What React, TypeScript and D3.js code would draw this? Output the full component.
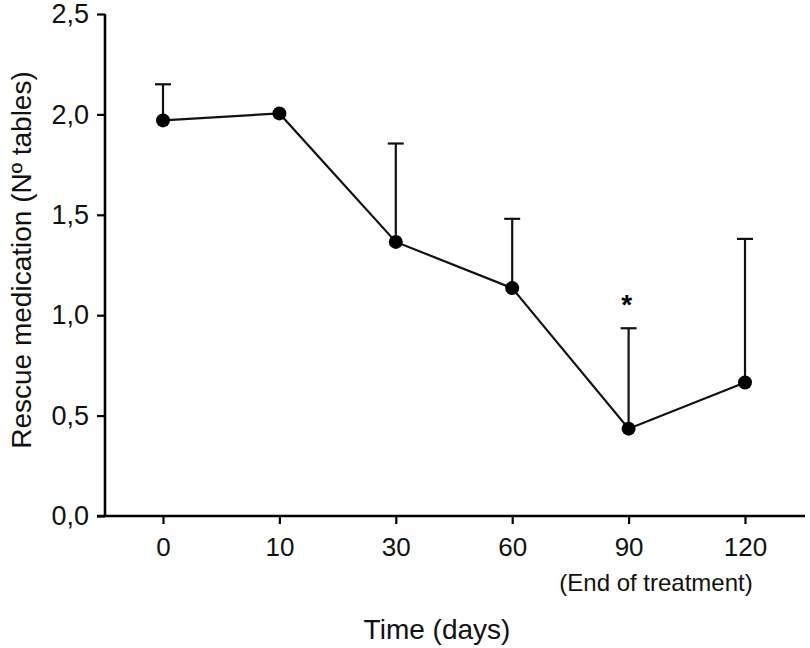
import { useRef, useEffect } from "react";
import * as d3 from "d3";

const days = ["0", "10", "30", "60", "90", "120"];
const means = [1.97, 2.005, 1.365, 1.135, 0.435, 0.665];
const upper = [2.15, null, 1.855, 1.48, 0.935, 1.38];
const yTicks = [0, 0.5, 1.0, 1.5, 2.0, 2.5];
const starred = ["90"];

export default function App() {
  const ref = useRef<SVGSVGElement | null>(null);

  useEffect(() => {
    if (!ref.current) return;
    const svg = d3.select(ref.current);
    svg.selectAll("*").remove();

    const font = "'Liberation Sans', Arial, sans-serif";
    const x = d3.scalePoint<string>().domain(days).range([163, 745]);
    const y = d3.scaleLinear().domain([0, 2.5]).range([516, 14]);

    // axes
    const yAxis = d3.axisLeft(y).tickValues(yTicks).tickSize(8).tickPadding(8)
      .tickFormat(d => d3.format(".1f")(d as number).replace(".", ","));
    const gy = svg.append("g").attr("transform", "translate(105,0)").call(yAxis);
    gy.select(".domain").attr("stroke-width", 2.6).attr("d", `M0,${y(2.5)}V${y(0)}`);
    gy.selectAll(".tick line").attr("stroke-width", 2.2);
    gy.selectAll(".tick text").attr("font-size", 27).attr("font-family", font).attr("fill", "#111");

    const xAxis = d3.axisBottom(x).tickSize(8).tickPadding(14);
    const gx = svg.append("g").attr("transform", `translate(0,${y(0)})`).call(xAxis);
    gx.select(".domain").attr("stroke-width", 2.6).attr("d", "M97,0H805");
    gx.selectAll(".tick line").attr("stroke-width", 2.2);
    gx.selectAll(".tick text").attr("font-size", 26).attr("font-family", font).attr("fill", "#111");

    // error bars (upper only)
    const pts = days.map((d, i) => ({ d, m: means[i], u: upper[i] }));
    const eb = svg.append("g").attr("stroke", "#111").attr("stroke-width", 2.2);
    pts.filter(p => p.u != null).forEach(p => {
      const cx = x(p.d)!;
      eb.append("line").attr("x1", cx).attr("x2", cx).attr("y1", y(p.m)).attr("y2", y(p.u as number));
      eb.append("line").attr("x1", cx - 8).attr("x2", cx + 8).attr("y1", y(p.u as number)).attr("y2", y(p.u as number));
    });

    // line
    const line = d3.line<{ d: string; m: number }>().x(p => x(p.d)!).y(p => y(p.m));
    svg.append("path").datum(pts).attr("d", line as any).attr("fill", "none")
      .attr("stroke", "#111").attr("stroke-width", 2.2);

    svg.append("g").selectAll("circle").data(pts).join("circle")
      .attr("cx", p => x(p.d)!).attr("cy", p => y(p.m)).attr("r", 7).attr("fill", "#000");

    // significance
    pts.filter(p => starred.includes(p.d)).forEach(p => {
      svg.append("text").attr("x", x(p.d)! - 2).attr("y", y(p.u as number) - 14)
        .attr("text-anchor", "middle").attr("font-size", 28).attr("font-weight", "bold")
        .attr("font-family", font).text("*");
    });

    svg.append("text").attr("x", 656).attr("y", 591).attr("text-anchor", "middle")
      .attr("font-size", 24).attr("font-family", font).attr("fill", "#111").text("(End of treatment)");

    svg.append("text").attr("x", 437).attr("y", 639).attr("text-anchor", "middle")
      .attr("font-size", 28).attr("font-family", font).attr("fill", "#111").text("Time (days)");

    svg.append("text").attr("transform", "translate(31,260) rotate(-90)").attr("text-anchor", "middle")
      .attr("font-size", 28).attr("font-family", font).attr("fill", "#111").text("Rescue medication (Nº tables)");
  }, []);

  return (
    <svg ref={ref} width={810} height={648}
      style={{ position: "absolute", left: 0, top: 0, background: "#fff" }} />
  );
}
